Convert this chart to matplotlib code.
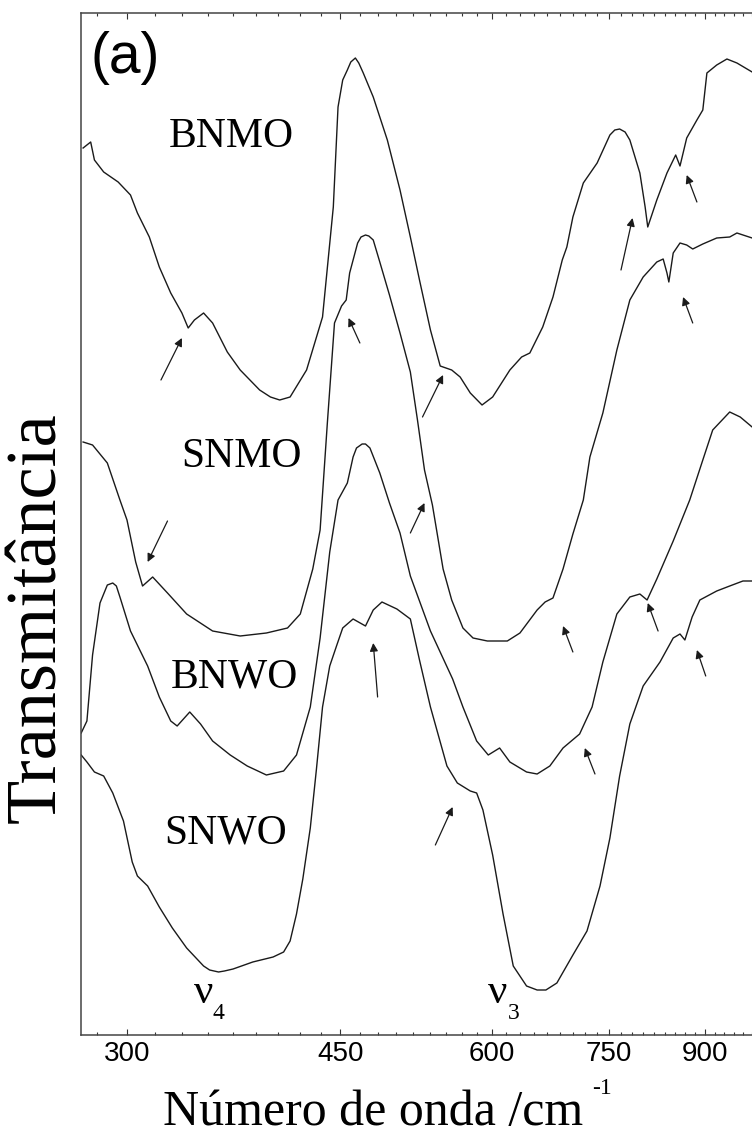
import matplotlib
matplotlib.use("Agg")
import matplotlib.pyplot as plt
from matplotlib.ticker import FixedLocator, FixedFormatter, NullFormatter
import numpy as np

# IR spectra, wavenumber in cm-1, transmittance in arbitrary (offset) units
bnmo_wn = [276, 280, 282, 287, 295, 302, 306, 313, 319, 326, 333, 337, 341, 347, 353,
           363, 372, 386, 394, 401, 409, 422, 435, 444, 448, 452, 456, 459, 463, 466,
           470, 479, 492, 504, 514, 523, 534, 544, 556, 565, 576, 589, 601, 621, 635,
           645, 661, 674, 686, 692, 700, 714, 733, 751, 758, 765, 773, 780, 795, 803,
           807, 821, 837, 851, 858, 869, 886, 896, 903, 920, 938, 956, 984, 1000]
bnmo_t = [88.7, 89.3, 87.5, 86.3, 85.3, 84.0, 82.2, 79.8, 76.8, 74.2, 72.2, 70.7, 71.5, 72.2, 71.2,
          68.3, 66.5, 64.5, 63.8, 63.5, 63.8, 66.5, 71.8, 82.8, 92.8, 95.5, 96.5, 97.3, 97.7, 97.2,
          96.2, 93.8, 89.5, 84.5, 79.8, 75.5, 70.5, 66.9, 66.5, 65.8, 64.2, 63.0, 63.8, 66.5, 67.8,
          68.2, 70.8, 73.8, 77.5, 78.8, 81.8, 85.2, 87.2, 90.0, 90.5, 90.6, 90.3, 89.5, 86.2, 82.8,
          80.8, 83.5, 86.2, 88.0, 86.9, 89.7, 91.5, 92.5, 96.2, 97.0, 97.6, 97.2, 96.3, 96.0]

snmo_wn = [276, 281, 289, 296, 300, 305, 309, 315, 324, 336, 353, 372, 391, 407, 417,
           427, 433, 439, 445, 451, 455, 458, 465, 468, 472, 475, 479, 485, 494, 504,
           514, 521, 528, 536, 547, 556, 568, 579, 595, 618, 633, 654, 664, 674, 687,
           700, 714, 723, 741, 761, 780, 800, 821, 831, 837, 840, 847, 858, 869, 879,
           896, 920, 943, 956, 984, 1000]
snmo_t = [59.3, 59.0, 57.2, 53.5, 51.5, 47.3, 44.9, 45.8, 44.2, 42.1, 40.4, 39.9, 40.2, 40.7, 42.1,
          46.6, 50.5, 61.2, 71.2, 72.9, 73.5, 76.2, 79.2, 79.8, 80.0, 79.9, 79.5, 77.3, 74.0, 70.2,
          66.3, 61.5, 56.5, 53.0, 46.6, 43.5, 40.7, 39.7, 39.4, 39.4, 40.2, 42.5, 43.3, 43.7, 46.6,
          50.1, 53.5, 57.8, 62.2, 68.5, 73.5, 75.8, 77.3, 77.6, 76.2, 75.3, 78.2, 79.2, 79.0, 78.6,
          79.1, 79.7, 79.8, 80.2, 79.7, 79.5]

bnwo_wn = [275, 278, 281, 285, 289, 292, 294, 296, 302, 312, 319, 326, 330, 338, 345,
           353, 365, 377, 391, 404, 414, 425, 433, 441, 448, 456, 461, 464, 469, 472,
           476, 485, 494, 504, 514, 534, 557, 568, 583, 596, 609, 621, 641, 654, 670,
           687, 709, 726, 741, 761, 780, 795, 806, 821, 847, 874, 896, 913, 943, 962,
           984, 1000]
bnwo_t = [30.2, 31.4, 38.0, 43.2, 45.0, 45.2, 44.9, 43.8, 40.4, 36.9, 33.8, 31.4, 30.9, 32.3, 31.1,
          29.4, 28.0, 26.9, 26.0, 26.4, 28.0, 32.8, 39.7, 48.3, 53.5, 55.2, 57.8, 58.7, 59.1, 59.1,
          58.7, 56.2, 53.2, 50.2, 45.9, 40.4, 35.6, 32.8, 29.4, 28.0, 28.7, 27.3, 26.3, 26.1, 26.9,
          28.7, 30.1, 32.8, 37.3, 42.1, 43.8, 44.1, 43.5, 45.6, 49.4, 53.5, 57.5, 60.5, 62.3, 61.8,
          60.8, 60.5]

snwo_wn = [275, 278, 282, 287, 292, 298, 303, 306, 312, 319, 327, 336, 347, 351, 357,
           361, 367, 381, 396, 404, 409, 414, 419, 425, 430, 435, 441, 447, 452, 461,
           472, 479, 487, 501, 514, 523, 534, 551, 562, 576, 583, 590, 601, 613, 625,
           641, 654, 665, 679, 700, 719, 737, 751, 765, 780, 800, 826, 847, 858, 866,
           878, 891, 920, 943, 967, 984, 1000]
snwo_t = [28.0, 27.3, 26.3, 25.9, 24.2, 21.4, 17.3, 15.9, 14.9, 12.8, 10.7, 8.7, 6.9, 6.5, 6.3,
          6.4, 6.6, 7.3, 7.8, 8.3, 9.4, 12.1, 15.6, 20.7, 26.6, 32.8, 36.9, 39.0, 40.7, 41.6,
          40.9, 42.5, 43.3, 42.6, 41.6, 37.5, 32.8, 26.9, 25.2, 24.4, 24.2, 22.5, 18.0, 12.1, 6.9,
          4.9, 4.5, 4.5, 5.2, 8.0, 10.4, 14.9, 19.7, 25.9, 31.1, 34.9, 37.3, 39.7, 40.1, 39.5,
          41.8, 43.5, 44.4, 44.9, 45.4, 45.4, 45.4]

names = ["BNMO", "SNMO", "BNWO", "SNWO"]
name_pos = [(366, 88.8), (373, 56.8), (368, 34.7), (362, 19.2)]

# band markers: (tail, head)
arrows = [((320, 65.5), (333, 69.7)), ((467, 69.2), (457, 71.7)), ((526, 61.8), (547, 66.0)),
          ((767, 76.5), (784, 81.7)), ((886, 83.3), (869, 86.0)), ((879, 71.2), (863, 73.8)),
          ((324, 51.4), (312, 47.3)), ((514, 50.2), (528, 53.2)), ((700, 38.3), (687, 40.9)),
          ((823, 40.4), (807, 43.2)), ((483, 33.8), (479, 39.2)), ((539, 19.0), (557, 22.8)),
          ((730, 26.1), (716, 28.7)), ((901, 35.9), (886, 38.5))]

major_ticks = [300, 450, 600, 750, 900]

serif = "Liberation Serif"
sans = "Liberation Sans"

fig = plt.figure(figsize=(7.52, 11.37), dpi=100)
ax = fig.add_axes([81.2 / 752, 102 / 1137, 679.4 / 752, 1022 / 1137])

for wn, t in [(bnmo_wn, bnmo_t), (snmo_wn, snmo_t), (bnwo_wn, bnwo_t), (snwo_wn, snwo_t)]:
    ax.plot(wn, t, color="#1a1a1a", lw=1.0)

for name, (x, y) in zip(names, name_pos):
    ax.text(x, y, name, family=serif, fontsize=30, ha="center", va="baseline")

for tail, head in arrows:
    ax.annotate("", xy=head, xytext=tail,
                arrowprops=dict(arrowstyle="-|>", color="#1a1a1a", lw=0.9,
                                mutation_scale=12, shrinkA=0, shrinkB=0))

# nu_4 and nu_3 band labels
ax.text(347, 3.2, "\u03bd", family=serif, fontsize=31, ha="center", va="baseline")
ax.text(357, 1.6, "4", family=serif, fontsize=17, ha="center", va="baseline")
ax.text(607, 3.2, "\u03bd", family=serif, fontsize=31, ha="center", va="baseline")
ax.text(625, 1.6, "3", family=serif, fontsize=17, ha="center", va="baseline")

ax.set_xscale("log")
ax.set_xlim(275, 1000)
ax.set_ylim(0, 102.2)
ax.xaxis.set_major_locator(FixedLocator(major_ticks))
ax.xaxis.set_major_formatter(FixedFormatter([str(v) for v in major_ticks]))
ax.xaxis.set_minor_locator(FixedLocator(np.arange(250, 1001, 50 / 3)))
ax.xaxis.set_minor_formatter(NullFormatter())
ax.tick_params(axis="x", which="both", direction="in", top=True, bottom=True,
               color="#333333", width=0.8, pad=4)
ax.tick_params(axis="x", which="major", length=4.5, labelsize=20)
ax.tick_params(axis="x", which="minor", length=2.2)
for lab in ax.get_xticklabels():
    lab.set_family(sans)
ax.set_yticks([])
for sp in ax.spines.values():
    sp.set_color("#444444")
    sp.set_linewidth(1.1)

fig.text(91 / 752, 1 - 73 / 1137, "(a)", family=sans, fontsize=41, ha="left", va="baseline")

fig.text(38 / 752, 1 - 618 / 1137, "Transmit\u00e2ncia", family=serif, fontsize=52,
         rotation=90, ha="center", va="center")
fig.text(163 / 752, 1 - 1125 / 1137, "N\u00famero de onda /cm", family=serif, fontsize=36,
         ha="left", va="baseline")
fig.text(592 / 752, 1 - 1094 / 1137, "-1", family=serif, fontsize=17, ha="left", va="baseline")

fig.savefig("out.png", dpi=100)
